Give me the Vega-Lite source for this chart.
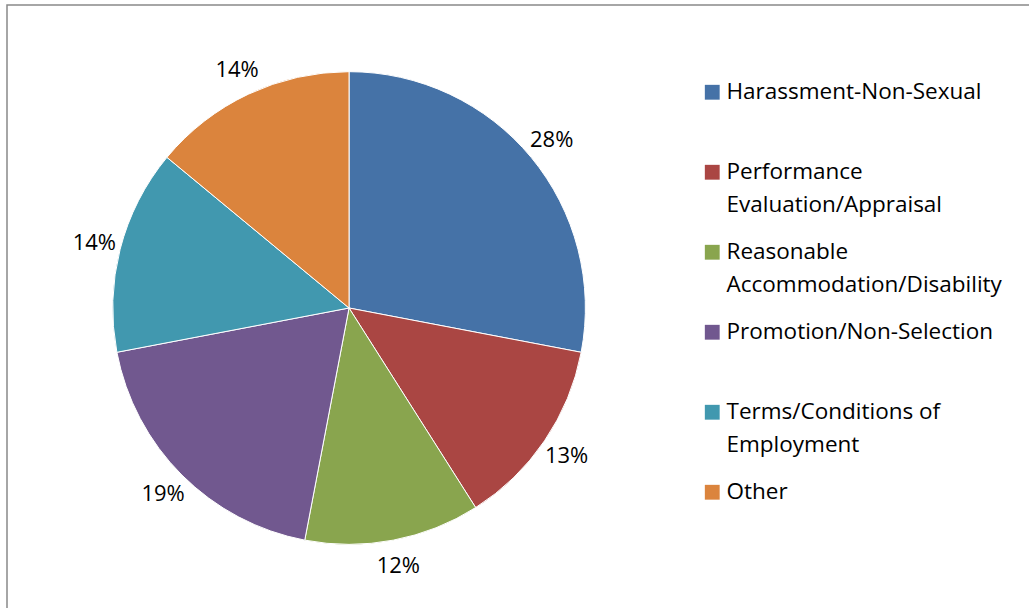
{
  "$schema": "https://vega.github.io/schema/vega-lite/v6.json",
  "width": 1025,
  "height": 606,
  "autosize": {"type": "none"},
  "padding": {"left": 7, "top": 5, "right": 0, "bottom": 0},
  "background": "white",
  "view": {"stroke": "#898989", "strokeWidth": 1.5},
  "config": {
    "font": "Open Sans",
    "style": {"guide-label": {"lineHeight": 33, "dy": -11}}
  },
  "data": {
    "values": [
      {"category": "Harassment-Non-Sexual", "value": 28, "rank": 1},
      {"category": "Performance Evaluation/Appraisal", "value": 13, "rank": 2},
      {"category": "Reasonable Accommodation/Disability", "value": 12, "rank": 3},
      {"category": "Promotion/Non-Selection", "value": 19, "rank": 4},
      {"category": "Terms/Conditions of Employment", "value": 14, "rank": 5},
      {"category": "Other", "value": 14, "rank": 6}
    ]
  },
  "encoding": {
    "theta": {"field": "value", "type": "quantitative", "stack": true},
    "order": {"field": "rank", "type": "quantitative"}
  },
  "layer": [
    {
      "mark": {"type": "arc", "x": {"expr": "width*0.3337"}, "y": {"expr": "height/2"}, "radius": {"expr": "height*0.39"}, "stroke": "white", "strokeWidth": 1},
      "encoding": {
        "color": {
          "field": "category",
          "type": "nominal",
          "sort": ["Harassment-Non-Sexual", "Performance Evaluation/Appraisal", "Reasonable Accommodation/Disability", "Promotion/Non-Selection", "Terms/Conditions of Employment", "Other"],
          "scale": {
            "domain": ["Harassment-Non-Sexual", "Performance Evaluation/Appraisal", "Reasonable Accommodation/Disability", "Promotion/Non-Selection", "Terms/Conditions of Employment", "Other"],
            "range": ["#4572A7", "#AA4643", "#89A54E", "#71588F", "#4198AF", "#DB843D"]
          },
          "legend": {
            "title": null,
            "orient": "none",
            "legendX": 694,
            "legendY": 76,
            "symbolType": "square",
            "symbolSize": 220,
            "symbolStrokeWidth": 0,
            "labelFont": "Open Sans",
            "labelFontSize": 22.5,
            "labelColor": "#000000",
            "labelLimit": 400,
            "labelOffset": 3,
            "labelBaseline": "top",
            "rowPadding": 24,
            "labelExpr": "datum.label == 'Performance Evaluation/Appraisal' ? ['Performance', 'Evaluation/Appraisal'] : datum.label == 'Reasonable Accommodation/Disability' ? ['Reasonable', 'Accommodation/Disability'] : datum.label == 'Terms/Conditions of Employment' ? ['Terms/Conditions of', 'Employment'] : [datum.label, ' ']"
          }
        }
      }
    },
    {
      "mark": {"type": "text", "x": {"expr": "width*0.3337"}, "y": {"expr": "height/2"}, "radius": {"expr": "height*0.434"}, "fontSize": 22, "font": "Open Sans", "color": "#000000"},
      "encoding": {"text": {"field": "label"}}
    }
  ],
  "transform": [{"calculate": "datum.value + '%'", "as": "label"}]
}
